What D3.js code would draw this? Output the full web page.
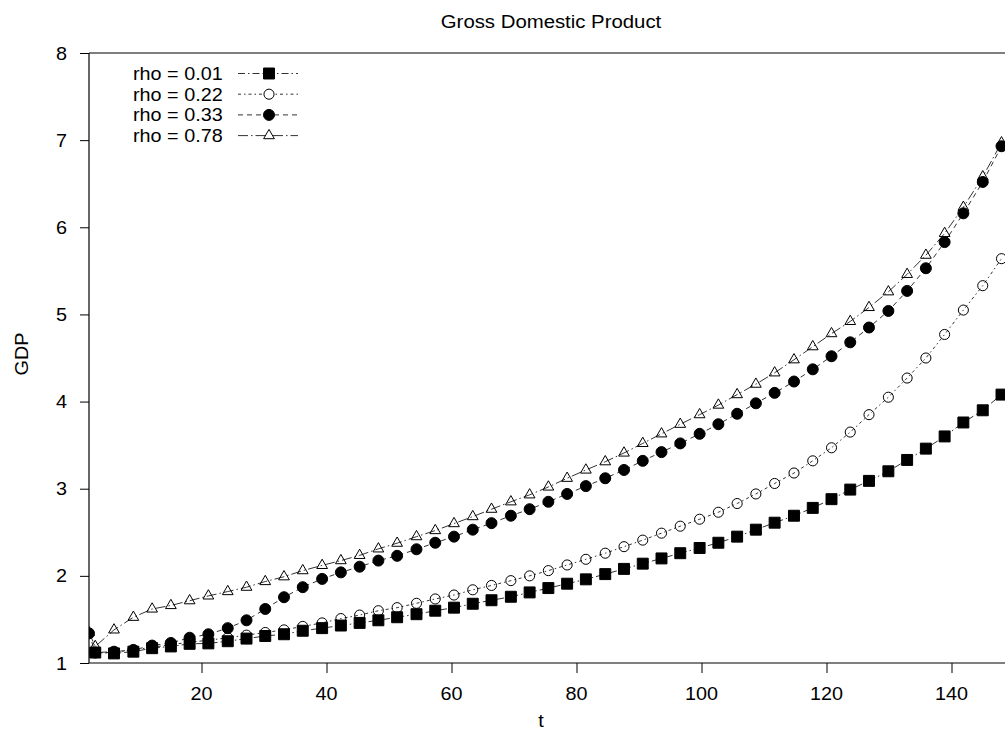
<!DOCTYPE html>
<html>
<head>
<meta charset="utf-8">
<script src="https://cdn.jsdelivr.net/npm/d3@7/dist/d3.min.js"></script>
<style>
  html, body { margin: 0; padding: 0; background: #fff; overflow: hidden; }
  svg { display: block; }
  text { font-family: "Liberation Sans", Arial, Helvetica, sans-serif; fill: #000; }
</style>
</head>
<body>
<svg id="chart" width="1005" height="736"></svg>
<script>
// Time index of the plotted points
const tValues = [2, 3.0, 6.0, 9.1, 12.1, 15.1, 18.1, 21.1, 24.2, 27.2, 30.2, 33.2, 36.2, 39.3, 42.3,
  45.3, 48.3, 51.3, 54.4, 57.4, 60.4, 63.4, 66.4, 69.5, 72.5, 75.5, 78.5, 81.5, 84.6, 87.6, 90.6,
  93.6, 96.6, 99.7, 102.7, 105.7, 108.7, 111.7, 114.8, 117.8, 120.8, 123.8, 126.8, 129.9, 132.9,
  135.9, 138.9, 141.9, 145.0, 148.0];

// GDP paths for each rho
const gdpRho001 = [null, 1.12, 1.11, 1.13, 1.17, 1.19, 1.22, 1.225, 1.25, 1.28, 1.31, 1.33, 1.37, 1.40, 1.43,
  1.46, 1.49, 1.525, 1.56, 1.60, 1.635, 1.68, 1.72, 1.76, 1.81, 1.86, 1.91, 1.96, 2.02, 2.08, 2.14,
  2.20, 2.26, 2.32, 2.38, 2.45, 2.53, 2.61, 2.69, 2.78, 2.88, 2.99, 3.09, 3.20, 3.33,
  3.46, 3.60, 3.76, 3.90, 4.08];
const gdpRho022 = [null, 1.12, 1.12, 1.15, 1.18, 1.21, 1.24, 1.26, 1.29, 1.32, 1.35, 1.38, 1.42, 1.46, 1.51,
  1.55, 1.60, 1.635, 1.685, 1.735, 1.78, 1.84, 1.89, 1.945, 2.00, 2.06, 2.125, 2.19, 2.26, 2.335, 2.41,
  2.49, 2.57, 2.65, 2.73, 2.83, 2.94, 3.06, 3.18, 3.32, 3.47, 3.65, 3.85, 4.05, 4.27,
  4.50, 4.77, 5.05, 5.33, 5.64];
const gdpRho033 = [1.34, 1.12, 1.13, 1.15, 1.20, 1.23, 1.29, 1.33, 1.40, 1.49, 1.62, 1.755, 1.87, 1.965, 2.04,
  2.105, 2.175, 2.23, 2.305, 2.38, 2.45, 2.53, 2.605, 2.69, 2.765, 2.85, 2.94, 3.03, 3.12, 3.215, 3.32,
  3.42, 3.52, 3.63, 3.74, 3.86, 3.98, 4.10, 4.23, 4.37, 4.52, 4.68, 4.85, 5.04, 5.27,
  5.53, 5.83, 6.16, 6.52, 6.93];
const gdpRho078 = [1.35, 1.19, 1.38, 1.525, 1.62, 1.66, 1.715, 1.77, 1.82, 1.87, 1.935, 1.99, 2.06, 2.12, 2.175,
  2.235, 2.31, 2.375, 2.45, 2.52, 2.60, 2.68, 2.765, 2.85, 2.93, 3.02, 3.12, 3.215, 3.31, 3.41, 3.52,
  3.63, 3.74, 3.85, 3.96, 4.08, 4.20, 4.33, 4.48, 4.63, 4.78, 4.92, 5.08, 5.26, 5.46,
  5.68, 5.93, 6.23, 6.58, 6.97];

const seriesLabels = ["rho = 0.01", "rho = 0.22", "rho = 0.33", "rho = 0.78"];
const xTicks = [20, 40, 60, 80, 100, 120, 140];
const yTicks = [1, 2, 3, 4, 5, 6, 7, 8];

const series = [
  { label: seriesLabels[0], values: gdpRho001, symbol: d3.symbolSquare, size: 120, filled: true, dash: "7,3,1.5,3" },
  { label: seriesLabels[1], values: gdpRho022, symbol: d3.symbolCircle, size: 80, filled: false, dash: "3,3,1.5,3" },
  { label: seriesLabels[2], values: gdpRho033, symbol: d3.symbolCircle, size: 95, filled: true, dash: "5,4" },
  { label: seriesLabels[3], values: gdpRho078, symbol: d3.symbolTriangle, size: 50, filled: false, dash: "10,3,1.5,3" }
];

const svg = d3.select("#chart");
const plot = { left: 89, top: 53, bottom: 663 };

const x = d3.scaleLinear().domain([2, 150]).range([plot.left, plot.left + 148 * 6.25]);
const y = d3.scaleLinear().domain([1, 8]).range([plot.bottom, plot.top]);

// slightly wide sans text, stretched horizontally around its anchor
function label(g, px, py, str, anchor, size) {
  return g.append("text")
    .attr("transform", `translate(${px},${py}) scale(1.1,1)`)
    .attr("text-anchor", anchor)
    .style("font-size", (size || 18) + "px")
    .text(str);
}

svg.append("defs").append("clipPath").attr("id", "plotClip")
  .append("rect")
  .attr("x", plot.left).attr("y", plot.top)
  .attr("width", 1100).attr("height", plot.bottom - plot.top);

// axes
const yAxis = svg.append("g")
  .attr("transform", `translate(${plot.left},0)`)
  .call(d3.axisLeft(y).tickValues(yTicks).tickSize(9).tickFormat(""));
yAxis.select(".domain").remove();
yAxis.selectAll("line").attr("stroke", "#000");
yTicks.forEach(v => label(svg, 67, y(v) + 6.5, String(v), "end"));

const xAxis = svg.append("g")
  .attr("transform", `translate(0,${plot.bottom})`)
  .call(d3.axisBottom(x).tickValues(xTicks).tickSize(10).tickFormat(""));
xAxis.select(".domain").remove();
xAxis.selectAll("line").attr("stroke", "#000");
xTicks.forEach(v => label(svg, x(v), 700, String(v), "middle"));

// frame
const frame = svg.append("g").attr("stroke", "#000").attr("stroke-width", 1.2).attr("fill", "none");
frame.append("line").attr("x1", plot.left).attr("x2", plot.left).attr("y1", plot.top).attr("y2", plot.bottom);
frame.append("line").attr("x1", plot.left).attr("x2", 1010).attr("y1", plot.top).attr("y2", plot.top);
frame.append("line").attr("x1", plot.left).attr("x2", 1010).attr("y1", plot.bottom).attr("y2", plot.bottom);

// titles
label(svg, 551, 28, "Gross Domestic Product", "middle", 18.5);
label(svg, 541, 727, "t", "middle");
svg.append("text")
  .attr("transform", `translate(28,354) rotate(-90) scale(1.1,1)`)
  .attr("text-anchor", "middle")
  .style("font-size", "18px")
  .text("GDP");

// series
const body = svg.append("g").attr("clip-path", "url(#plotClip)");
const line = d3.line()
  .defined(d => d[1] != null)
  .x(d => x(d[0]))
  .y(d => y(d[1]));

series.forEach(s => {
  const pts = tValues.map((t, i) => [t, s.values[i]]);
  body.append("path")
    .datum(pts)
    .attr("d", line)
    .attr("fill", "none")
    .attr("stroke", "#333")
    .attr("stroke-width", 1)
    .attr("stroke-dasharray", s.dash);
});
series.forEach(s => {
  const pts = tValues.map((t, i) => [t, s.values[i]]).filter(d => d[1] != null);
  body.selectAll(null)
    .data(pts)
    .enter().append("path")
    .attr("transform", d => `translate(${x(d[0])},${y(d[1])})`)
    .attr("d", d3.symbol().type(s.symbol).size(s.size))
    .attr("fill", s.filled ? "#000" : "none")
    .attr("stroke", "#000")
    .attr("stroke-width", 1);
});

// legend
const legend = svg.append("g");
series.forEach((s, i) => {
  const ly = 73.5 + i * 20.7;
  label(legend, 133, ly + 6.5, s.label, "start");
  legend.append("line")
    .attr("x1", 238).attr("x2", 298).attr("y1", ly).attr("y2", ly)
    .attr("stroke", "#333").attr("stroke-width", 1).attr("stroke-dasharray", s.dash);
  legend.append("path")
    .attr("transform", `translate(269,${ly})`)
    .attr("d", d3.symbol().type(s.symbol).size(s.size))
    .attr("fill", s.filled ? "#000" : "#fff")
    .attr("stroke", "#000")
    .attr("stroke-width", 1);
});
</script>
</body>
</html>
